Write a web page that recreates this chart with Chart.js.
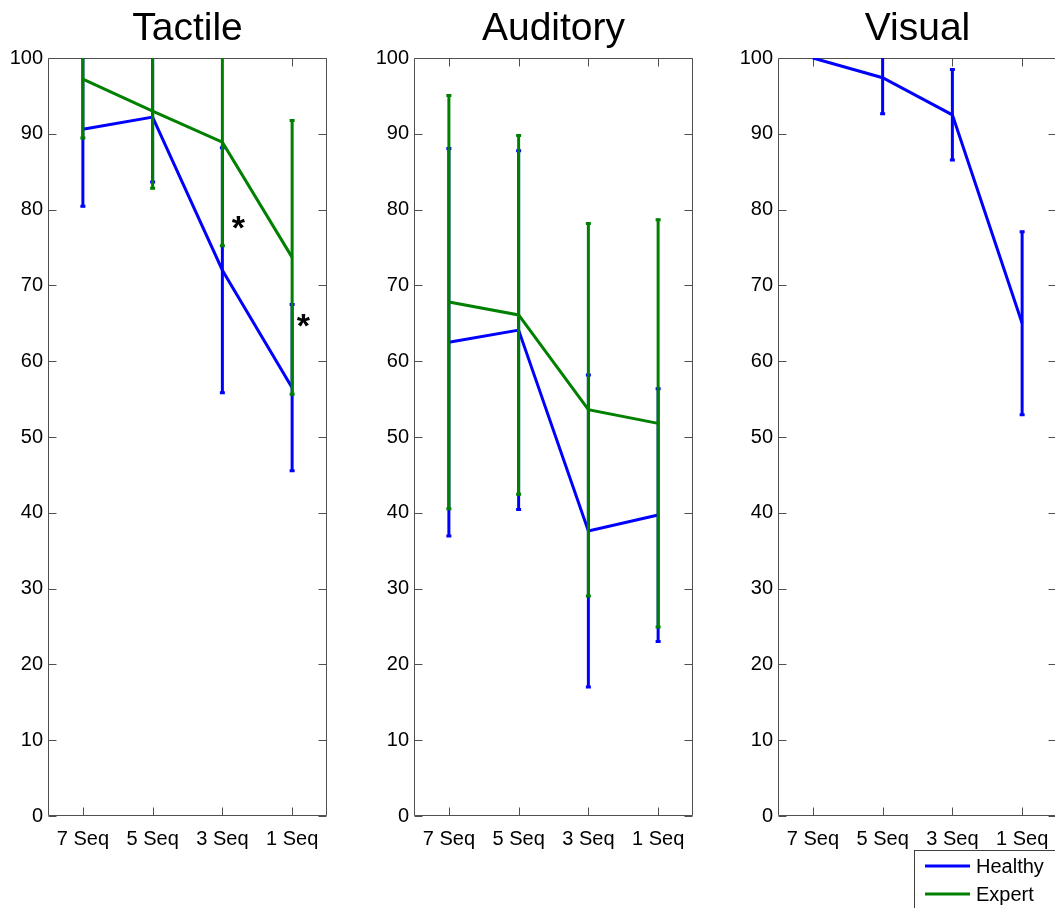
<!DOCTYPE html>
<html>
<head>
<meta charset="utf-8">
<title>Sequence recognition</title>
<script src="https://cdn.jsdelivr.net/npm/chart.js@4"></script>
<style>
  html, body { margin: 0; padding: 0; background: #fff; overflow: hidden; width: 1055px; height: 908px; }
  canvas { position: absolute; top: 0; }
</style>
</head>
<body>
<canvas id="tactileChart" width="345" height="908" style="left:0"></canvas>
<canvas id="auditoryChart" width="345" height="908" style="left:366px"></canvas>
<canvas id="visualChart" width="345" height="908" style="left:730px"></canvas>
<script>
// x categories and y ticks shared by the three panels
const categories = ['7 Seq', '5 Seq', '3 Seq', '1 Seq'];
const yTicks = [0, 10, 20, 30, 40, 50, 60, 70, 80, 90, 100];

// mean scores and error (+/-) per condition
const tactileHealthy = [90.6, 92.2, 72.0, 56.5];
const tactileHealthyErr = [10.3, 8.7, 16.3, 11.1];
const tactileExpert = [97.2, 93.0, 88.9, 73.7];
const tactileExpertErr = [7.9, 10.3, 13.8, 18.2];

const auditoryHealthy = [62.5, 64.1, 37.6, 39.7];
const auditoryHealthyErr = [25.7, 23.8, 20.7, 16.8];
const auditoryExpert = [67.8, 66.1, 53.6, 51.8];
const auditoryExpertErr = [27.4, 23.8, 24.7, 27.0];

const visualHealthy = [100, 97.4, 92.5, 65.0];
const visualHealthyErr = [0, 4.9, 6.1, 12.2];
const visualExpert = [];
const visualExpertErr = [];

// significance markers: [category index, offset along x (in categories), y value]
const tactileStars = [[2, 0.23, 78.3], [3, 0.16, 65.4]];

const BLUE = '#0000ff';
const GREEN = '#008000';
const FONT = "'Liberation Sans', Arial, sans-serif";

// vertical error bars with small caps, drawn right after each line
const errorBars = {
  id: 'errorBars',
  afterDatasetDraw(chart, args) {
    const ds = chart.data.datasets[args.index];
    if (!ds.errors) return;
    const { ctx, chartArea } = chart;
    const y = chart.scales.y;
    ctx.save();
    ctx.beginPath();
    ctx.rect(chartArea.left, chartArea.top, chartArea.right - chartArea.left, chartArea.bottom - chartArea.top);
    ctx.clip();
    ctx.strokeStyle = ds.borderColor;
    ctx.lineWidth = 3;
    args.meta.data.forEach((pt, i) => {
      const err = ds.errors[i];
      if (!err) return;
      const v = ds.data[i];
      const top = y.getPixelForValue(v + err);
      const bot = y.getPixelForValue(v - err);
      ctx.beginPath();
      ctx.moveTo(pt.x, top);
      ctx.lineTo(pt.x, bot);
      ctx.stroke();
      ctx.beginPath();
      ctx.moveTo(pt.x - 2.5, top + 1);
      ctx.lineTo(pt.x + 2.5, top + 1);
      ctx.moveTo(pt.x - 2.5, bot - 1);
      ctx.lineTo(pt.x + 2.5, bot - 1);
      ctx.stroke();
    });
    ctx.restore();
  }
};

// box around the plot with inward tick marks on all four sides
const axesBox = {
  id: 'axesBox',
  beforeDatasetsDraw(chart) {
    const { ctx, chartArea: a, scales } = chart;
    const len = 8;
    ctx.save();
    ctx.strokeStyle = '#505050';
    ctx.lineWidth = 1;
    const L = Math.round(a.left) + 0.5, R = Math.round(a.right) - 0.5;
    const T = Math.round(a.top) + 0.5, B = Math.round(a.bottom) - 0.5;
    ctx.beginPath();
    ctx.rect(L, T, R - L, B - T);
    scales.x.ticks.forEach((t, i) => {
      const px = Math.round(scales.x.getPixelForTick(i)) + 0.5;
      ctx.moveTo(px, B); ctx.lineTo(px, B - len);
      ctx.moveTo(px, T); ctx.lineTo(px, T + len);
    });
    scales.y.ticks.forEach((t) => {
      const py = Math.round(scales.y.getPixelForValue(t.value)) + 0.5;
      ctx.moveTo(L, py); ctx.lineTo(L + len, py);
      ctx.moveTo(R, py); ctx.lineTo(R - len, py);
    });
    ctx.stroke();
    ctx.restore();
  }
};

// panel title above the plot
const panelTitle = {
  id: 'panelTitle',
  afterDraw(chart, args, opts) {
    if (!opts.text) return;
    const { ctx, chartArea } = chart;
    ctx.save();
    ctx.font = '39px ' + FONT;
    ctx.fillStyle = '#000';
    ctx.textAlign = 'center';
    ctx.textBaseline = 'alphabetic';
    ctx.fillText(opts.text, (chartArea.left + chartArea.right) / 2, 40);
    ctx.restore();
  }
};

// asterisks placed in data coordinates
const stars = {
  id: 'stars',
  afterDraw(chart, args, opts) {
    if (!opts.items) return;
    const { ctx, scales } = chart;
    const step = scales.x.getPixelForValue(1) - scales.x.getPixelForValue(0);
    ctx.save();
    ctx.font = 'bold 34px ' + FONT;
    ctx.fillStyle = '#000';
    ctx.textAlign = 'center';
    ctx.textBaseline = 'alphabetic';
    opts.items.forEach(([idx, dx, val]) => {
      const m = ctx.measureText('*');
      const cx = scales.x.getPixelForValue(idx) + dx * step;
      const cy = scales.y.getPixelForValue(val);
      const off = (m.actualBoundingBoxAscent - m.actualBoundingBoxDescent) / 2;
      ctx.fillText('*', cx, cy + off);
    });
    ctx.restore();
  }
};

// boxed legend in the bottom corner of a panel
const boxLegend = {
  id: 'boxLegend',
  afterDraw(chart, args, opts) {
    if (!opts.display) return;
    const { ctx, chartArea } = chart;
    const x0 = chartArea.right - 143, y0 = 850;
    ctx.save();
    ctx.fillStyle = '#fff';
    ctx.fillRect(x0, y0, 200, 80);
    ctx.strokeStyle = '#404040';
    ctx.lineWidth = 1;
    ctx.strokeRect(x0 + 0.5, y0 + 0.5, 200, 80);
    ctx.font = '20px ' + FONT;
    ctx.textBaseline = 'middle';
    ctx.textAlign = 'left';
    chart.data.datasets.forEach((ds, i) => {
      const yy = y0 + 16 + i * 28;
      ctx.strokeStyle = ds.borderColor;
      ctx.lineWidth = 3;
      ctx.beginPath();
      ctx.moveTo(x0 + 11, yy);
      ctx.lineTo(x0 + 56, yy);
      ctx.stroke();
      ctx.fillStyle = '#000';
      ctx.fillText(ds.label, x0 + 62, yy + 1);
    });
    ctx.restore();
  }
};

function makePanel(id, title, healthy, healthyErr, expert, expertErr, extra) {
  const ctx = document.getElementById(id).getContext('2d');
  return new Chart(ctx, {
    type: 'line',
    data: {
      labels: categories,
      datasets: [
        { label: 'Healthy', data: healthy, errors: healthyErr, borderColor: BLUE, order: 2 },
        { label: 'Expert', data: expert, errors: expertErr, borderColor: GREEN, order: 1 }
      ]
    },
    options: {
      responsive: false,
      animation: false,
      elements: {
        line: { borderWidth: 3, tension: 0, fill: false },
        point: { radius: 0, hoverRadius: 0 }
      },
      layout: { padding: { left: 0, right: 18, top: 58, bottom: 52 } },
      scales: {
        x: {
          type: 'category',
          offset: true,
          grid: { display: false },
          border: { display: false },
          ticks: { color: '#000', font: { family: FONT, size: 20 }, padding: 3, maxRotation: 0, autoSkip: false },
          afterFit(scale) { scale.height = 40; }
        },
        y: {
          min: 0,
          max: 100,
          grid: { display: false, tickLength: 0 },
          border: { display: false },
          afterBuildTicks(scale) { scale.ticks = yTicks.map(v => ({ value: v })); },
          ticks: { color: '#000', font: { family: FONT, size: 20 }, padding: 5 },
          afterFit(scale) { scale.width = 48; }
        }
      },
      plugins: {
        legend: { display: false },
        tooltip: { enabled: false },
        panelTitle: { text: title },
        stars: { items: extra.stars },
        boxLegend: { display: !!extra.legend }
      }
    },
    plugins: [axesBox, errorBars, panelTitle, stars, boxLegend]
  });
}

makePanel('tactileChart', 'Tactile', tactileHealthy, tactileHealthyErr, tactileExpert, tactileExpertErr, { stars: tactileStars });
makePanel('auditoryChart', 'Auditory', auditoryHealthy, auditoryHealthyErr, auditoryExpert, auditoryExpertErr, {});
makePanel('visualChart', 'Visual', visualHealthy, visualHealthyErr, visualExpert, visualExpertErr, { legend: true });
</script>
</body>
</html>
